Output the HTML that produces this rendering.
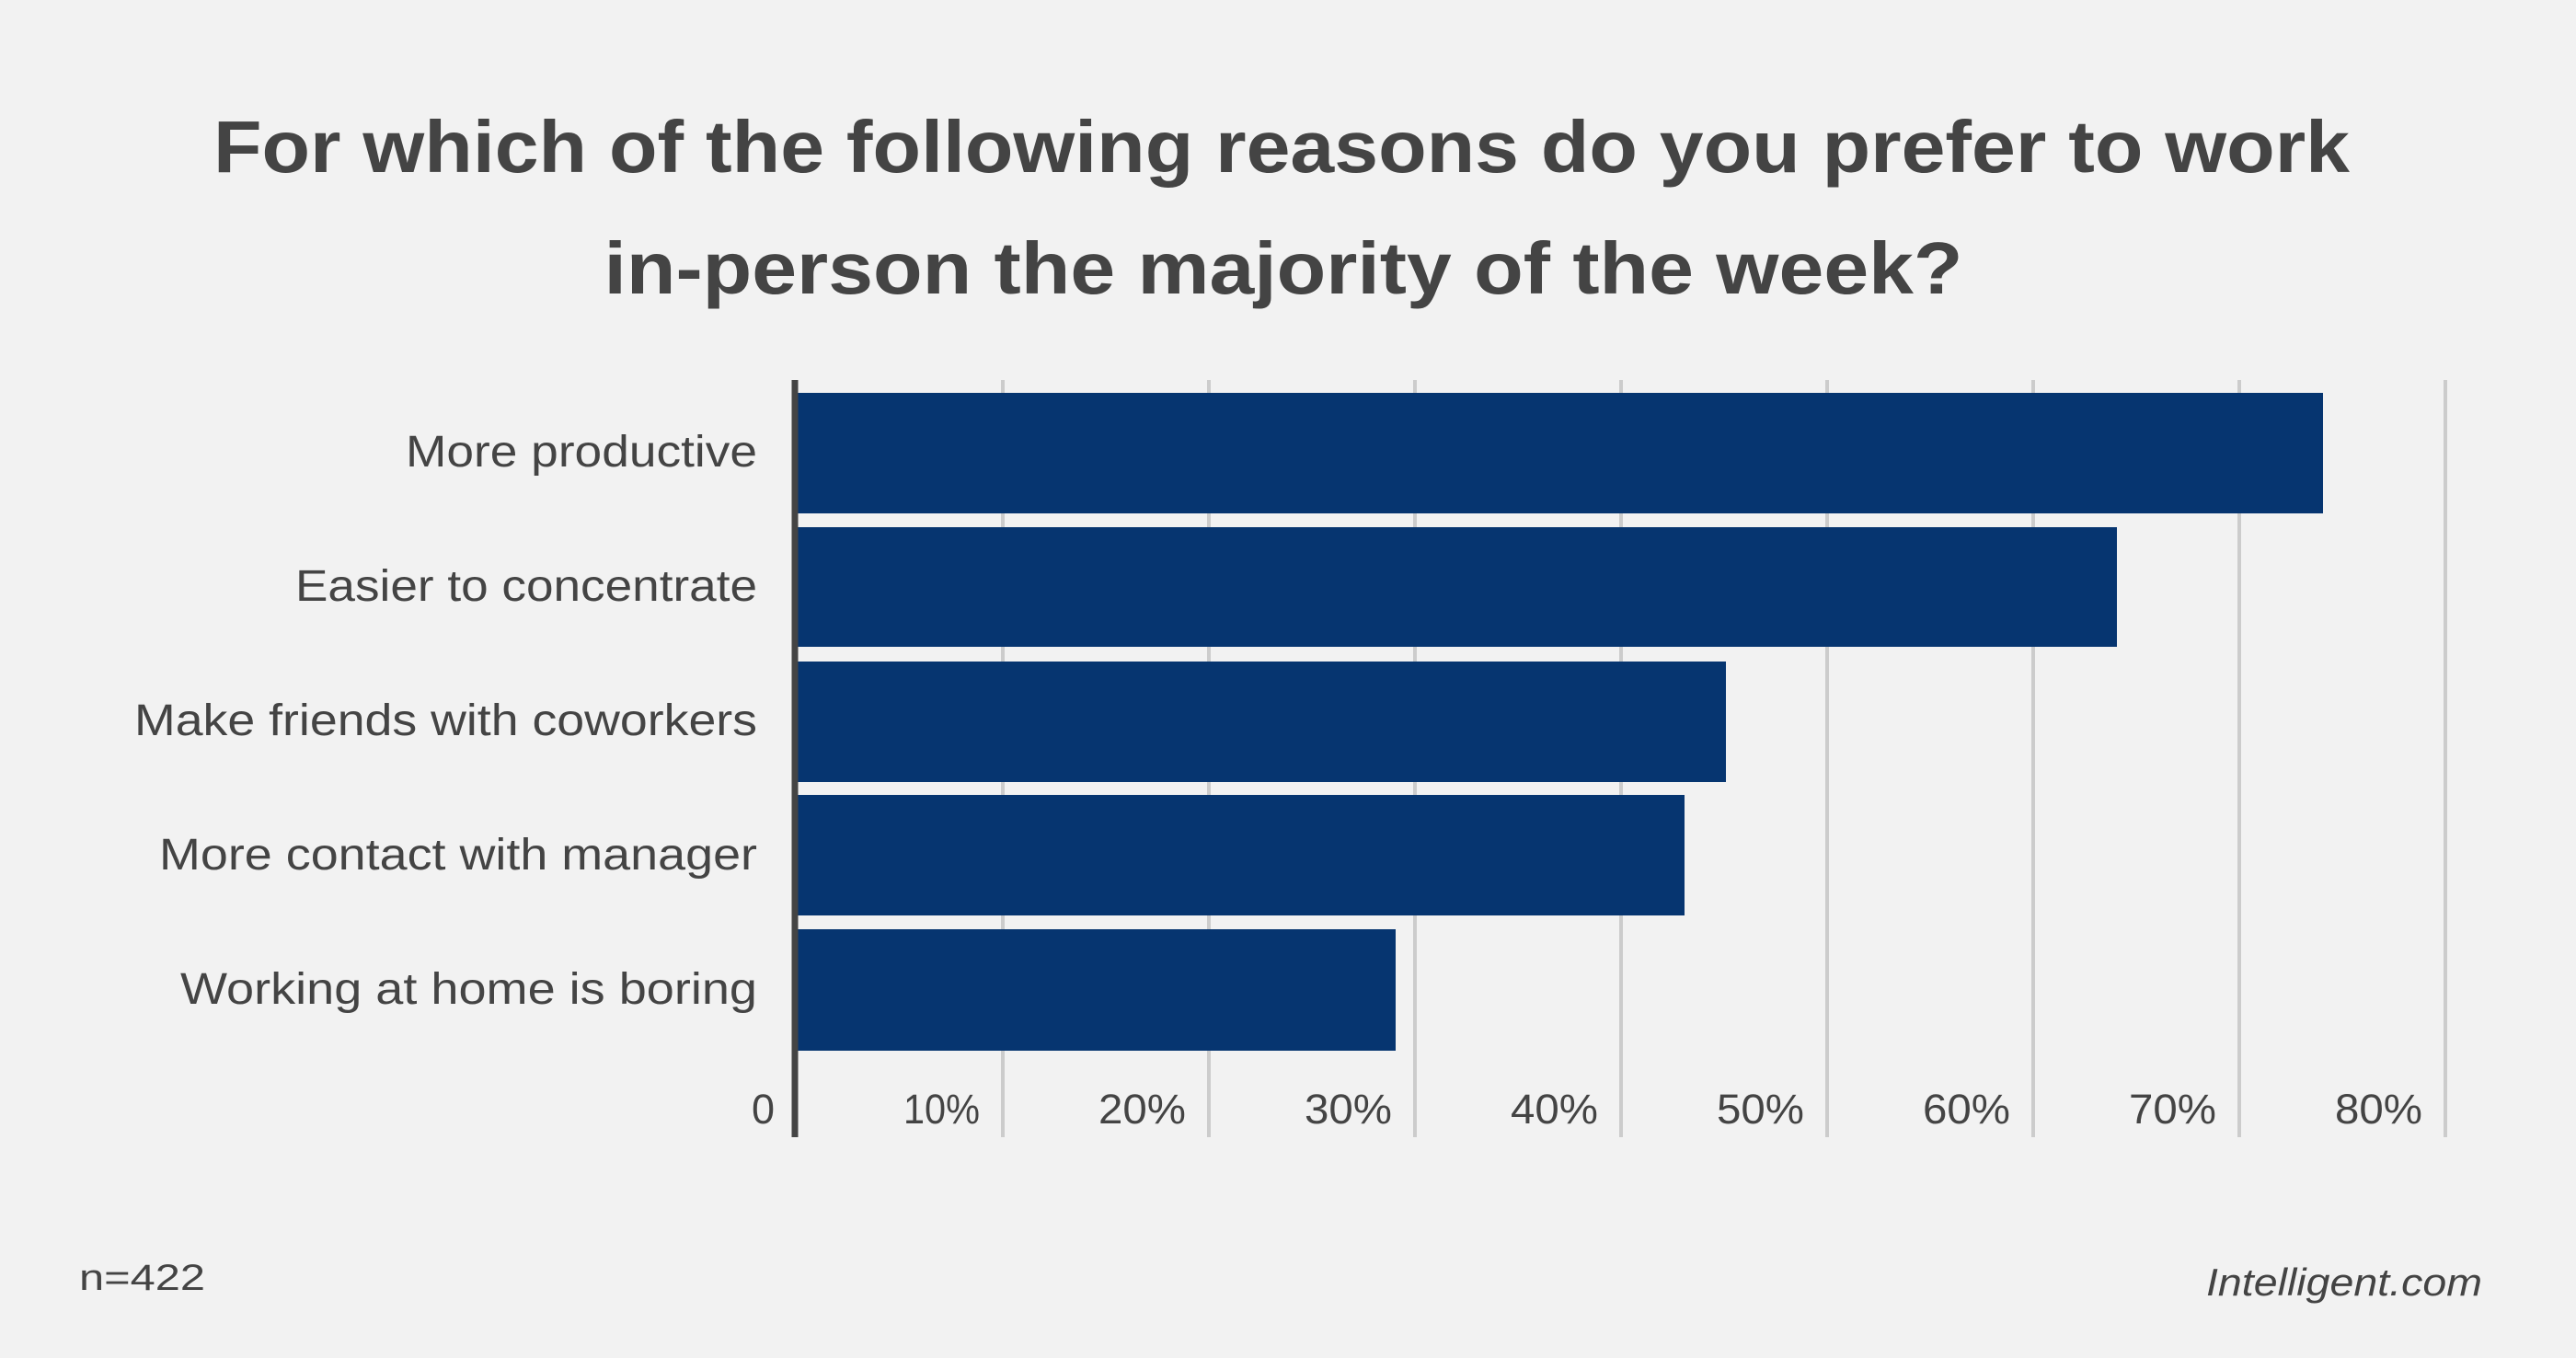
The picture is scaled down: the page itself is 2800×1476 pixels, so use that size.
<!DOCTYPE html>
<html><head><meta charset="utf-8"><style>
html,body{margin:0;padding:0;background:#f2f2f2;}
svg{display:block;}
text{font-family:"Liberation Sans",sans-serif;fill:#444;}
</style></head><body>
<svg width="2800" height="1476" viewBox="0 0 2800 1476" xmlns="http://www.w3.org/2000/svg">
<rect width="2800" height="1476" fill="#f2f2f2"/>
<text x="1393" y="187" font-size="80" font-weight="bold" text-anchor="middle" textLength="2322" lengthAdjust="spacingAndGlyphs">For which of the following reasons do you prefer to work</text>
<text x="1395" y="319" font-size="80" font-weight="bold" text-anchor="middle" textLength="1477" lengthAdjust="spacingAndGlyphs">in-person the majority of the week?</text>
<g stroke="#cccccc" stroke-width="4">
<line x1="1090" y1="413" x2="1090" y2="1236"/>
<line x1="1314" y1="413" x2="1314" y2="1236"/>
<line x1="1538" y1="413" x2="1538" y2="1236"/>
<line x1="1762" y1="413" x2="1762" y2="1236"/>
<line x1="1986" y1="413" x2="1986" y2="1236"/>
<line x1="2210" y1="413" x2="2210" y2="1236"/>
<line x1="2434" y1="413" x2="2434" y2="1236"/>
<line x1="2658" y1="413" x2="2658" y2="1236"/>
</g>
<g fill="#063570">
<rect x="866" y="427" width="1659" height="131"/>
<rect x="866" y="573" width="1435" height="130"/>
<rect x="866" y="719" width="1010" height="131"/>
<rect x="866" y="864" width="965" height="131"/>
<rect x="866" y="1010" width="651" height="132"/>
</g>
<line x1="864" y1="413" x2="864" y2="1236" stroke="#444" stroke-width="7"/>
<g font-size="48" text-anchor="end">
<text x="823" y="507" textLength="382" lengthAdjust="spacingAndGlyphs">More productive</text>
<text x="823" y="653" textLength="502" lengthAdjust="spacingAndGlyphs">Easier to concentrate</text>
<text x="823" y="799" textLength="677" lengthAdjust="spacingAndGlyphs">Make friends with coworkers</text>
<text x="823" y="945" textLength="650" lengthAdjust="spacingAndGlyphs">More contact with manager</text>
<text x="823" y="1091" textLength="627" lengthAdjust="spacingAndGlyphs">Working at home is boring</text>
</g>
<g font-size="45" text-anchor="end">
<text x="842" y="1221">0</text>
<text x="1065" y="1221" textLength="83" lengthAdjust="spacingAndGlyphs">10%</text>
<text x="1289" y="1221" textLength="95" lengthAdjust="spacingAndGlyphs">20%</text>
<text x="1513" y="1221" textLength="95" lengthAdjust="spacingAndGlyphs">30%</text>
<text x="1737" y="1221" textLength="95" lengthAdjust="spacingAndGlyphs">40%</text>
<text x="1961" y="1221" textLength="95" lengthAdjust="spacingAndGlyphs">50%</text>
<text x="2185" y="1221" textLength="95" lengthAdjust="spacingAndGlyphs">60%</text>
<text x="2409" y="1221" textLength="95" lengthAdjust="spacingAndGlyphs">70%</text>
<text x="2633" y="1221" textLength="95" lengthAdjust="spacingAndGlyphs">80%</text>
</g>
<text x="86" y="1402" font-size="40" textLength="137" lengthAdjust="spacingAndGlyphs">n=422</text>
<text x="2398" y="1408" font-size="42" font-style="italic" textLength="300" lengthAdjust="spacingAndGlyphs">Intelligent.com</text>
</svg>
</body></html>
